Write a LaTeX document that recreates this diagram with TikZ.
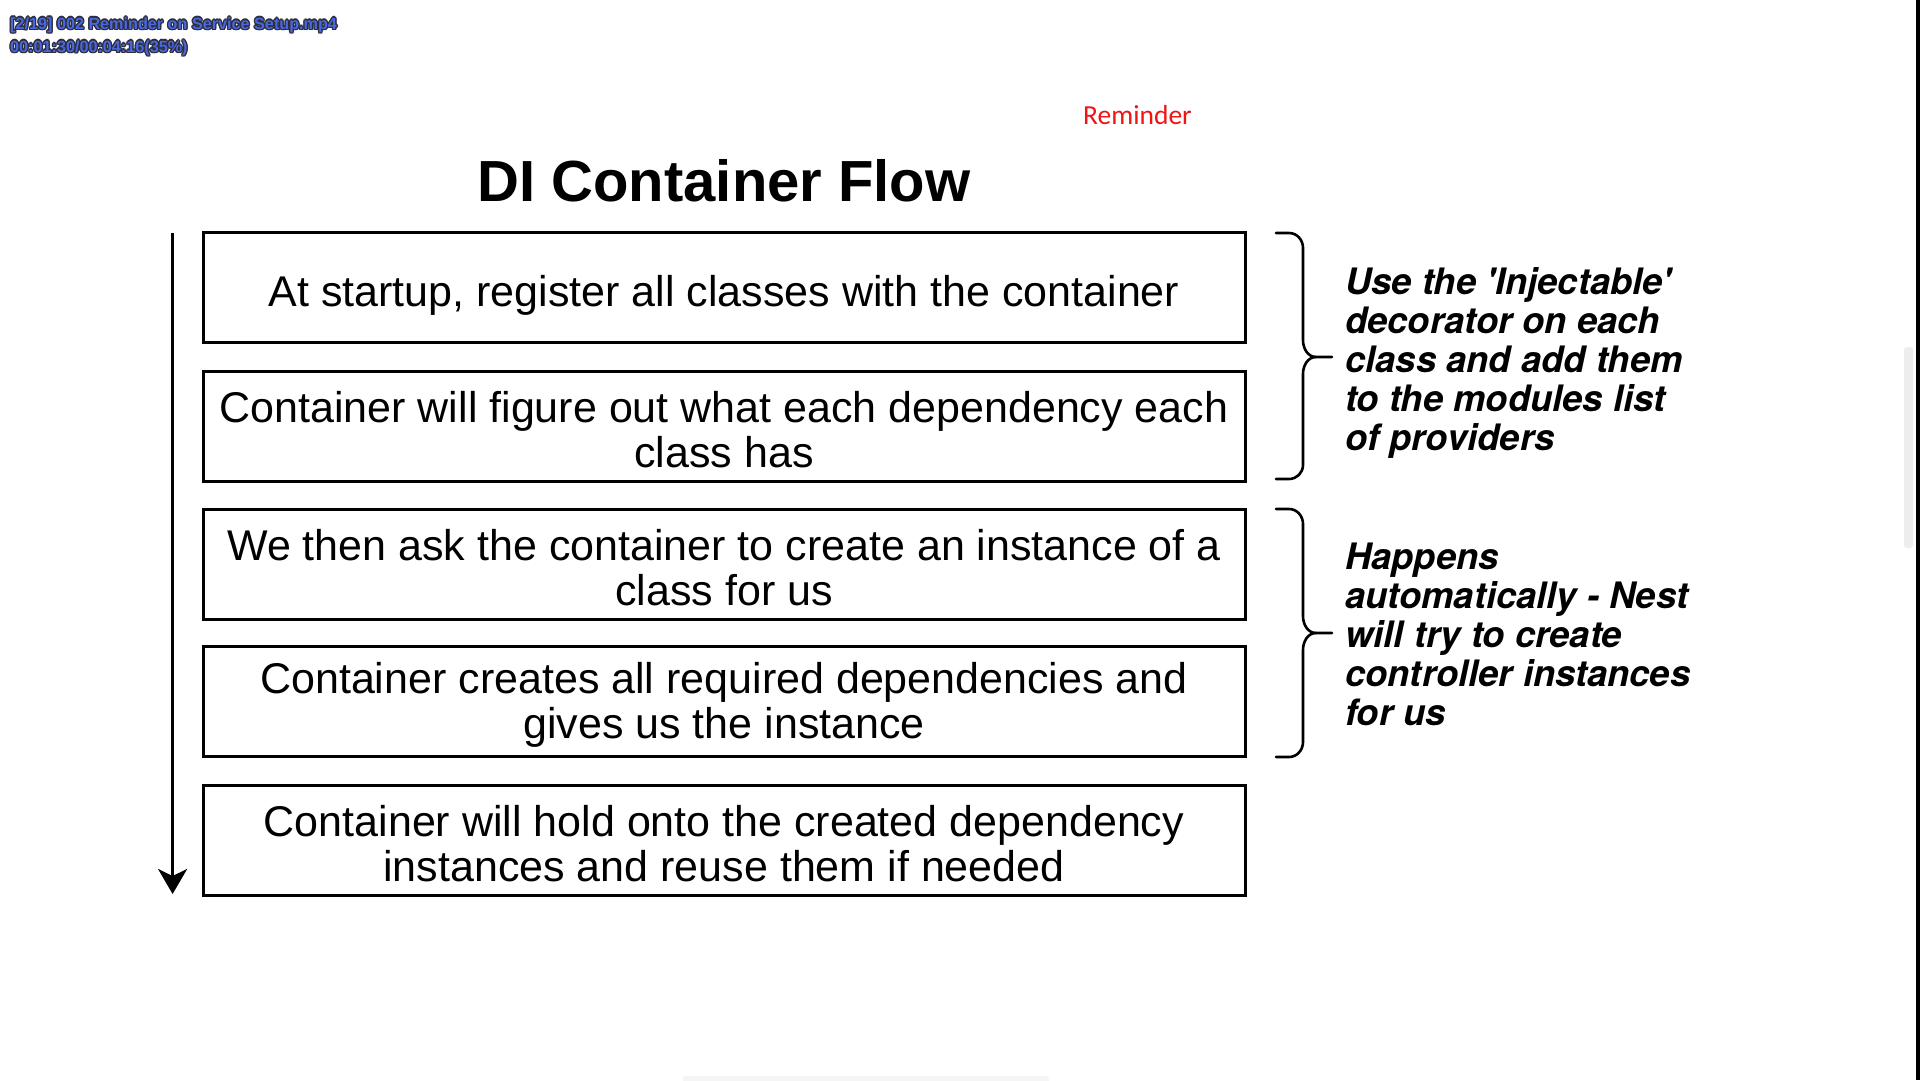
\documentclass[tikz,border=0pt]{standalone}
\usepackage{fontspec}
\setmainfont{Liberation Sans}
\newfontfamily\calib{Carlito}
\newfontfamily\heros{TeX Gyre Heros}
\usetikzlibrary{arrows.meta}
\definecolor{ovblue}{RGB}{72,104,224}
\definecolor{ovdark}{RGB}{45,45,60}
\definecolor{remred}{RGB}{240,20,20}
\tikzset{
  flowbox/.style={draw=black, line width=3pt, minimum width=1042pt, minimum height=110pt, inner sep=0pt},
  flowtext/.style={align=center, inner sep=0pt, font=\fontsize{43}{45}\selectfont},
  sidetext/.style={anchor=west, align=left, inner sep=0pt,
    font=\heros\fontsize{36.4}{39}\selectfont\bfseries\itshape},
  bracepath/.style={draw=black, line width=2.6pt, line cap=round, line join=round},
  ovtext/.style={anchor=base west, inner sep=0pt, font=\fontsize{16.2}{18}\selectfont\bfseries},
}
\begin{document}
\begin{tikzpicture}[x=1pt,y=-1pt]
\useasboundingbox (0,0) rectangle (1920,1080);
\fill[white] (0,0) rectangle (1920,1080);
% overlay text with outline
\foreach \dx/\dy [count=\i] in {-1.3/0,1.3/0,0/-1.3,0/1.3,-1/-1,1/1,-1/1,1/-1}{
  \node[ovtext, text=ovdark] (ovs1\i) at (10+\dx,29+\dy) {[2/19] 002 Reminder on Service Setup.mp4};
  \node[ovtext, text=ovdark] (ovs2\i) at (10+\dx,52+\dy) {00:01:30/00:04:16(35\%)};
}
\node[ovtext, text=ovblue] (ov1) at (10,29) {[2/19] 002 Reminder on Service Setup.mp4};
\node[ovtext, text=ovblue] (ov2) at (10,52) {00:01:30/00:04:16(35\%)};
% reminder
\node[anchor=base west, inner sep=0pt, text=remred, font=\calib\fontsize{27.5}{30}\selectfont] (rem) at (1083,124) {Reminder};
% title
\node[anchor=base, inner sep=0pt, font=\fontsize{58}{64}\selectfont\bfseries] (title) at (724,201) {DI Container Flow};
% boxes
\node[flowbox] (b1) at (724,287.8) {};
\node[flowbox] (b2) at (724,426.1) {};
\node[flowbox] (b3) at (724,564.5) {};
\node[flowbox] (b4) at (724,701.6) {};
\node[flowbox] (b5) at (724,840) {};
\node[flowtext] (t1) at ([yshift=-8pt]b1.center) {At startup, register all classes with the container};
\node[flowtext] (t2) at ([yshift=-3.5pt]b2.center) {Container will figure out what each dependency each\\class has};
\node[flowtext] (t3) at ([yshift=-3.5pt]b3.center) {We then ask the container to create an instance of a\\class for us};
\node[flowtext] (t4) at ([yshift=-3.5pt]b4.center) {Container creates all required dependencies and\\gives us the instance};
\node[flowtext] (t5) at ([yshift=-3.5pt]b5.center) {Container will hold onto the created dependency\\instances and reuse them if needed};
% arrow
\coordinate (atop) at (172.6,233);
\coordinate (abot) at (172.6,894);
\draw[line width=3pt, -{Stealth[length=25pt,width=29pt,inset=7pt]}] (atop) -- (abot);
% brace 1
\draw[bracepath] (1276,233) -- (1289,233) to[out=0,in=90] (1303,248) -- (1303,340)
  to[out=-90,in=180] (1316,357) -- (1332,357);
\draw[bracepath] (1316,357) to[out=180,in=90] (1303,374) -- (1303,465)
  to[out=-90,in=0] (1289,479) -- (1276,479);
% brace 2
\draw[bracepath] (1276,509) -- (1289,509) to[out=0,in=90] (1303,524) -- (1303,616)
  to[out=-90,in=180] (1316,633) -- (1332,633);
\draw[bracepath] (1316,633) to[out=180,in=90] (1303,650) -- (1303,742)
  to[out=-90,in=0] (1289,757) -- (1276,757);
% side texts
\node[sidetext] (s1) at (1345,363) {Use the 'Injectable'\\decorator on each\\class and add them\\to the modules list\\of providers};
\node[sidetext] (s2) at (1345,634.5) {Happens\\automatically - Nest\\will try to create\\controller instances\\for us};
% scrollbar thumb, bottom bar, right edge
\fill[black!7, rounded corners=3pt] (1904,347) rectangle (1913,548);
\fill[black!4, rounded corners=3pt] (683,1076) rectangle (1049,1084);
\fill[black] (1915.5,0) rectangle (1920,1080);
\end{tikzpicture}
\end{document}
